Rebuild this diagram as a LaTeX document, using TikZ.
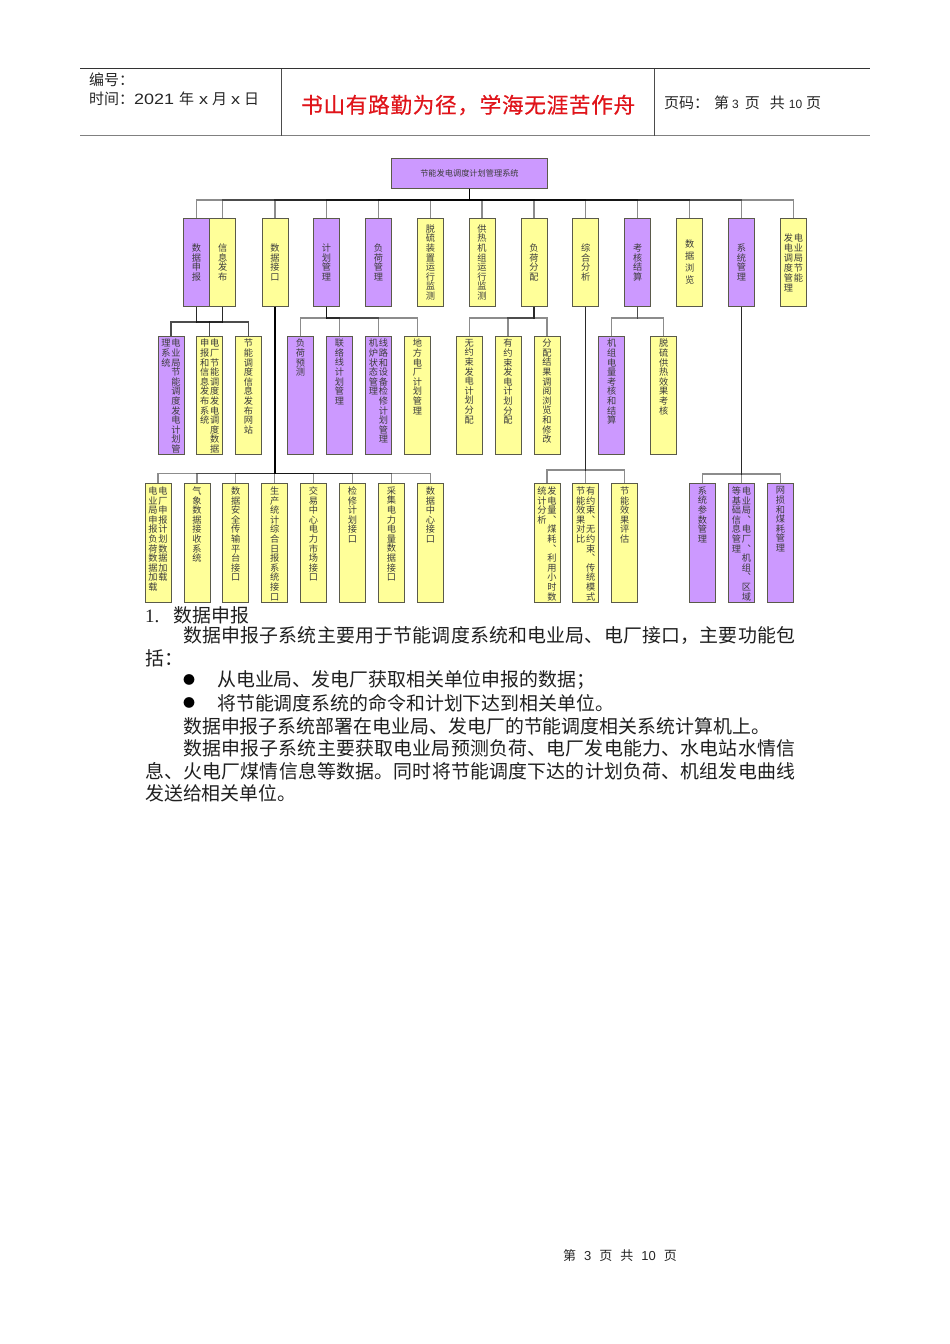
\documentclass[tikz,border=0pt]{standalone}
\usepackage{fontspec}
\setmainfont{Noto Sans CJK SC}
\newfontfamily\numfont[FakeStretch=1.2]{Liberation Sans}
\newfontfamily\footnum{Liberation Sans}
\newfontfamily\romfont{Liberation Serif}
\newfontfamily\mottofont[FakeBold=0.5]{Noto Sans CJK SC}
\usetikzlibrary{calc}
\definecolor{pur}{HTML}{CC99FF}
\definecolor{yel}{HTML}{FFFF99}
\definecolor{edge}{HTML}{5A5A4A}
\definecolor{boxtxt}{HTML}{3C3C3C}
\definecolor{titlered}{HTML}{E0141A}
\ExplSyntaxOn
% one stacked column of characters
\NewDocumentCommand\vcol{O{9.6pt}m}{
  \vtop{\baselineskip=#1\lineskiplimit=-20pt\relax
    \tl_map_inline:nn {#2}{\hbox to 10pt{\hss\fontsize{9.2pt}{9pt}\selectfont ##1\hss}}}}
% a line of text spread to an exact width
\NewDocumentCommand\jline{mm}{
  \hbox to #1{\tl_map_inline:nn {#2}{##1\hfil}\hskip 0pt plus -1fil}}
\ExplSyntaxOff
\newcommand\midtext[2][9.6pt]{\vbox to 86pt{\vfil\hbox{\vcol[#1]{#2}}\vfil}}
\newcommand\midtwo[2]{\vbox to 86pt{\vfil\hbox{\vcol[10pt]{#2}\vcol[10pt]{#1}}\vfil}}
\newcommand\toptext[1]{\vbox to 116pt{\kern2pt\hbox{\vcol{#1}}\vfil}}
\newcommand\toptwo[2]{\vbox to 116pt{\kern2pt\hbox{\vcol{#2}\vcol{#1}}\vfil}}
\tikzset{
  sysbox/.style={draw=edge,line width=0.9pt,anchor=north west,inner sep=0pt,text=boxtxt,align=center,minimum width=26pt},
  toprow/.style={sysbox,minimum height=88pt},
  midrow/.style={sysbox,minimum height=118pt},
  lowrow/.style={sysbox,minimum height=118.5pt},
  purbox/.style={fill=pur},
  yelbox/.style={fill=yel},
  wire/.style={draw=black,line width=1.2pt,opacity=0.45},
  bodytext/.style={anchor=west,inner sep=0pt,text=black!88,font=\fontsize{18.9pt}{20pt}\selectfont},
  bullettext/.style={anchor=center,inner sep=0pt,text=black,font=\fontsize{12pt}{13pt}\selectfont},
  headtext/.style={anchor=west,inner sep=0pt,text=black!85,font=\fontsize{15pt}{16pt}\selectfont},
}
\newcommand\wirefrom[3]{\draw[wire] (#1.south) -- ++(0,#2) -| (#3.north);}
\begin{document}
\begin{tikzpicture}[x=1pt,y=-1pt]
\useasboundingbox (0,0) rectangle (950,1344);
\fill[white] (0,0) rectangle (950,1344);
% header table
\coordinate (hl) at (80,68.5); \coordinate (hr) at (870,68.5);
\coordinate (bl) at (80,135.5); \coordinate (br) at (870,135.5);
\coordinate (va) at (281,68.5); \coordinate (vb) at (281,135.5);
\coordinate (vc) at (654.5,68.5); \coordinate (vd) at (654.5,135.5);
\draw[line width=0.9pt,black!80] (hl) -- (hr);
\draw[line width=1.6pt,black!50] (bl) -- (br);
\draw[line width=0.7pt,black!70] (va) -- (vb);
\draw[line width=0.7pt,black!70] (vc) -- (vd);
\node[headtext] (no) at (89,80) {编号：};
\node[headtext] (time) at (89,99) {时间：{\numfont 2021}\kern5pt 年\kern5pt{\numfont x}\kern4pt 月\kern4pt{\numfont x}\kern4pt 日};
\node[anchor=west,inner sep=0pt,text=titlered,font=\mottofont\fontsize{21.6pt}{23pt}\selectfont] (motto) at (301,105) {\jline{334pt}{书山有路勤为径，学海无涯苦作舟}};
\node[headtext] (pg) at (664,103) {页码：\kern5pt 第\kern3pt{\fontsize{12pt}{14pt}\selectfont\footnum 3}\kern6pt 页\kern10pt 共\kern4pt{\fontsize{12pt}{14pt}\selectfont\footnum 10}\kern4pt 页};
% root
\node[draw=edge,line width=0.9pt,fill=pur,text=boxtxt,anchor=north west,inner sep=0pt,minimum width=156pt,minimum height=30pt,font=\fontsize{8.2pt}{9pt}\selectfont] (root) at (391,158) {节能发电调度计划管理系统};
% top row
\node[toprow,purbox] (t1) at (183,218) {\midtext{数据申报}};
\node[toprow,yelbox] (t2) at (209.3,218) {\midtext{信息发布}};
\node[toprow,yelbox] (t3) at (261.5,218) {\midtext{数据接口}};
\node[toprow,purbox] (t4) at (313,218) {\midtext{计划管理}};
\node[toprow,purbox] (t5) at (365,218) {\midtext{负荷管理}};
\node[toprow,yelbox] (t6) at (417,218) {\midtext{脱硫装置运行监测}};
\node[toprow,yelbox] (t7) at (468.5,218) {\midtext{供热机组运行监测}};
\node[toprow,yelbox] (t8) at (520.5,218) {\midtext{负荷分配}};
\node[toprow,yelbox] (t9) at (572.3,218) {\midtext{综合分析}};
\node[toprow,purbox] (t10) at (624.3,218) {\midtext{考核结算}};
\node[toprow,yelbox] (t11) at (676.3,218) {\midtext[12pt]{数据浏览}};
\node[toprow,purbox] (t12) at (728,218) {\midtext{系统管理}};
\node[toprow,yelbox] (t13) at (780,218) {\midtwo{电业局节能}{发电调度管理}};
% middle row
\node[midrow,purbox] (m1) at (157.5,335.7) {\toptwo{电业局节能调度发电计划管}{理系统}};
\node[midrow,yelbox] (m2) at (196.3,335.7) {\toptwo{电厂节能调度发电调度数据}{申报和信息发布系统}};
\node[midrow,yelbox] (m3) at (235,335.7) {\toptext{节能调度信息发布网站}};
\node[midrow,purbox] (m4) at (287,335.7) {\toptext{负荷预测}};
\node[midrow,purbox] (m5) at (326,335.7) {\toptext{联络线计划管理}};
\node[midrow,purbox] (m6) at (365,335.7) {\toptwo{线路和设备检修计划管理}{机炉状态管理}};
\node[midrow,yelbox] (m7) at (404,335.7) {\toptext{地方电厂计划管理}};
\node[midrow,yelbox] (m8) at (455.7,335.7) {\toptext{无约束发电计划分配}};
\node[midrow,yelbox] (m9) at (494.5,335.7) {\toptext{有约束发电计划分配}};
\node[midrow,yelbox] (m10) at (533.5,335.7) {\toptext{分配结果调阅浏览和修改}};
\node[midrow,purbox] (m11) at (598.3,335.7) {\toptext{机组电量考核和结算}};
\node[midrow,yelbox] (m12) at (650.3,335.7) {\toptext{脱硫供热效果考核}};
% lower row
\node[lowrow,yelbox] (b1) at (144.5,483) {\toptwo{电厂申报计划数据加载}{电业局申报负荷数据加载}};
\node[lowrow,yelbox] (b2) at (183.5,483) {\toptext{气象数据接收系统}};
\node[lowrow,yelbox] (b3) at (222.3,483) {\toptext{数据安全传输平台接口}};
\node[lowrow,yelbox] (b4) at (261.2,483) {\toptext{生产统计综合日报系统接口}};
\node[lowrow,yelbox] (b5) at (300,483) {\toptext{交易中心电力市场接口}};
\node[lowrow,yelbox] (b6) at (339,483) {\toptext{检修计划接口}};
\node[lowrow,yelbox] (b7) at (378,483) {\toptext{采集电力电量数据接口}};
\node[lowrow,yelbox] (b8) at (417,483) {\toptext{数据中心接口}};
\node[lowrow,yelbox] (b9) at (533.5,483) {\toptwo{发电量︑煤耗︑利用小时数}{统计分析}};
\node[lowrow,yelbox] (b10) at (572.3,483) {\toptwo{有约束︑无约束︑传统模式}{节能效果对比}};
\node[lowrow,yelbox] (b11) at (611.3,483) {\toptext{节能效果评估}};
\node[lowrow,purbox] (b12) at (689,483) {\toptext{系统参数管理}};
\node[lowrow,purbox] (b13) at (728,483) {\toptwo{电业局︑电厂︑机组︑区域}{等基础信息管理}};
\node[lowrow,purbox] (b14) at (767,483) {\toptext{网损和煤耗管理}};
% connectors
\foreach \c in {t1,t2,t3,t4,t5,t6,t7,t8,t9,t10,t11,t12,t13} {\wirefrom{root}{11}{\c}}
\foreach \p in {t1,t2} \foreach \c in {m1,m2,m3} {\wirefrom{\p}{15}{\c}}
\foreach \c in {m4,m5,m6,m7} {\wirefrom{t4}{11}{\c}}
\foreach \c in {m8,m9,m10} {\wirefrom{t8}{11}{\c}}
\foreach \c in {m11,m12} {\wirefrom{t10}{11}{\c}}
\foreach \c in {b1,b2,b3,b4,b5,b6,b7,b8} {\wirefrom{t3}{166.5}{\c}}
\foreach \c in {b9,b10,b11} {\wirefrom{t9}{163}{\c}}
\foreach \c in {b12,b13,b14} {\wirefrom{t12}{167}{\c}}
% body text
\node[bodytext] (h1) at (145,615) {{\romfont 1.}\hspace{14pt}\jline{75pt}{数据申报}};
\node[bodytext] (l1) at (183,636) {\jline{612pt}{数据申报子系统主要用于节能调度系统和电业局、电厂接口，主要功能包}};
\node[bodytext] (l2) at (145,658) {括：};
\node[bullettext] (d1) at (189,680) {\symbol{"25CF}};
\node[bodytext] (l3) at (217,680) {从电业局、发电厂获取相关单位申报的数据；};
\node[bullettext] (d2) at (189,703) {\symbol{"25CF}};
\node[bodytext] (l4) at (217,703) {将节能调度系统的命令和计划下达到相关单位。};
\node[bodytext] (l5) at (183,726) {\jline{587pt}{数据申报子系统部署在电业局、发电厂的节能调度相关系统计算机上。}};
\node[bodytext] (l6) at (183,748) {\jline{612pt}{数据申报子系统主要获取电业局预测负荷、电厂发电能力、水电站水情信}};
\node[bodytext] (l7) at (145,771) {\jline{650pt}{息、火电厂煤情信息等数据。同时将节能调度下达的计划负荷、机组发电曲线}};
\node[bodytext] (l8) at (145,793) {发送给相关单位。};
% footer
\node[anchor=west,inner sep=0pt,text=black!85,font=\fontsize{13pt}{14pt}\selectfont] (foot) at (563,1256) {第\kern8pt{\footnum 3}\kern8pt 页\kern8pt 共\kern8pt{\footnum 10}\kern8pt 页};
\end{tikzpicture}
\end{document}
